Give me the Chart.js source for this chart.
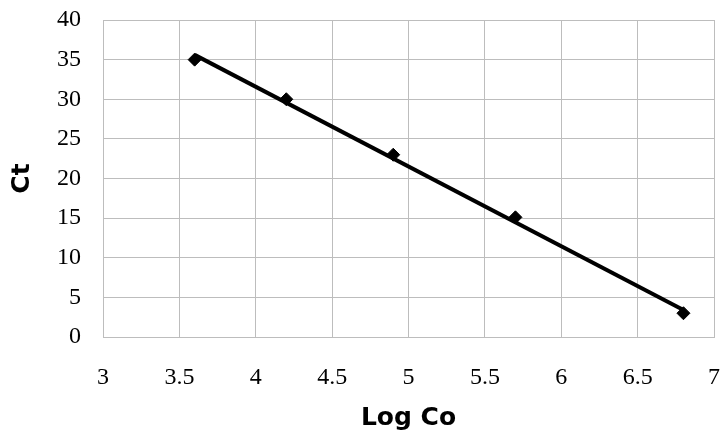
<!DOCTYPE html>
<html>
<head>
<meta charset="utf-8">
<script src="https://cdn.jsdelivr.net/npm/chart.js@4/dist/chart.umd.min.js"></script>
<style>
  html, body { margin: 0; padding: 0; background: #fff; }
  #wrap { width: 722px; height: 433px; }
</style>
</head>
<body>
<div id="wrap"><canvas id="chart"></canvas></div>
<script>
// measured points
const logCo = [3.6, 4.2, 4.9, 5.7, 6.8];
const ct = [35, 30, 23, 15.1, 3];
// trend line ends
const trendX = [3.6, 6.8];
const trendY = [35.6, 3.4];
// axis ranges
const xMin = 3, xMax = 7, xStep = 0.5;
const yMin = 0, yMax = 40, yStep = 5;

const points = logCo.map((x, i) => ({ x: x, y: ct[i] }));
const trend = trendX.map((x, i) => ({ x: x, y: trendY[i] }));

const gridColor = '#bdbdbd';
const tickFont = { family: '"Liberation Serif", "DejaVu Serif", serif', size: 24 };
const titleFont = { family: '"DejaVu Sans", "Noto Sans", sans-serif', size: 25, weight: 'bold' };

// drop the extra room Chart.js keeps for the first/last tick label
function noEdgePadding(scale) {
    scale.paddingLeft = 0;
    scale.paddingRight = 0;
    scale.paddingTop = 0;
    scale.paddingBottom = 0;
}

new Chart(document.getElementById('chart').getContext('2d'), {
    type: 'scatter',
    data: {
        datasets: [
            {
                label: 'Ct',
                data: points,
                pointStyle: 'rectRot',
                pointRadius: 6.5,
                backgroundColor: '#000',
                borderColor: '#000',
                order: 2
            },
            {
                label: 'trend',
                type: 'line',
                data: trend,
                borderColor: '#000',
                borderWidth: 4,
                pointRadius: 0,
                fill: false,
                order: 1
            }
        ]
    },
    options: {
        responsive: true,
        maintainAspectRatio: false,
        animation: false,
        layout: { padding: { left: 7, right: 8, top: 20, bottom: 0 } },
        plugins: {
            legend: { display: false },
            tooltip: { enabled: false }
        },
        scales: {
            x: {
                type: 'linear',
                min: xMin,
                max: xMax,
                grid: { color: gridColor, drawTicks: false },
                border: { color: gridColor },
                ticks: {
                    stepSize: xStep,
                    padding: 26,
                    color: '#000',
                    font: tickFont,
                    maxRotation: 0,
                    callback: v => String(v)
                },
                title: {
                    display: true,
                    text: 'Log Co',
                    color: '#000',
                    font: titleFont,
                    padding: 0
                },
                afterFit: function(scale) {
                    scale.height = 433 - 337;
                    noEdgePadding(scale);
                }
            },
            y: {
                type: 'linear',
                min: yMin,
                max: yMax,
                grid: { color: gridColor, drawTicks: false },
                border: { color: gridColor },
                ticks: {
                    stepSize: yStep,
                    padding: 22,
                    color: '#000',
                    font: tickFont
                },
                title: {
                    display: true,
                    text: 'Ct',
                    color: '#000',
                    font: titleFont,
                    padding: 0
                },
                afterFit: function(scale) {
                    scale.width = 103 - 7;
                    noEdgePadding(scale);
                }
            }
        }
    }
});
</script>
</body>
</html>
